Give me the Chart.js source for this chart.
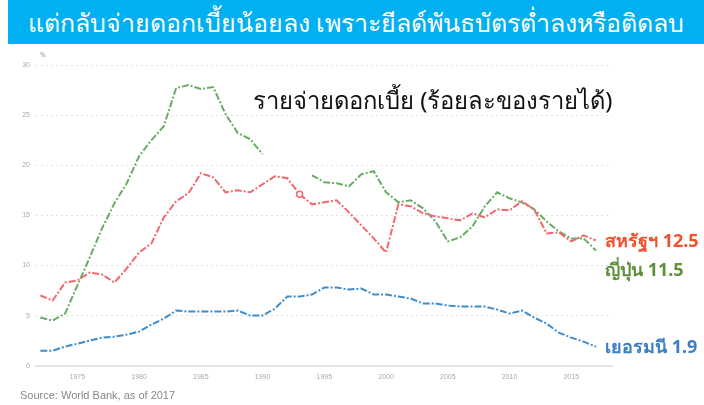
<!DOCTYPE html>
<html>
<head>
<meta charset="utf-8">
<script src="https://cdn.jsdelivr.net/npm/chart.js@4"></script>
<style>
  body { margin: 0; background: #fff; font-family: "Noto Sans", "DejaVu Sans", sans-serif; }
  #wrap { position: relative; width: 704px; height: 405px; overflow: hidden; }
  #chart { position: absolute; left: 0; top: 0; }
  .title { position: absolute; left: 8px; top: 0; width: 696px; height: 44px; background: #00b0f0;
           color: #fff; font-size: 25px; line-height: 44px; text-align: center; white-space: nowrap; }
  .sub { position: absolute; left: 253px; top: 82px; font-size: 23.8px; color: #111; white-space: nowrap; }
  .unit { position: absolute; left: 40px; top: 50px; font-size: 7px; color: #999; }
  .src { position: absolute; left: 20px; top: 389px; font-family: "Liberation Sans", Arial, sans-serif; font-size: 11px; color: #888; white-space: nowrap; }
  .lbl { position: absolute; left: 605px; font-size: 18px; font-weight: bold; white-space: nowrap; }
</style>
</head>
<body>
<div id="wrap">
  <canvas id="chart" width="704" height="405"></canvas>
  <div class="title">แต่กลับจ่ายดอกเบี้ยน้อยลง เพราะยีลด์พันธบัตรต่ำลงหรือติดลบ</div>
  <div class="sub">รายจ่ายดอกเบี้ย (ร้อยละของรายได้)</div>
  <div class="unit">%</div>
  <div class="src">Source: World Bank, as of 2017</div>
  <div class="lbl" style="top:226px;color:#f0502c">สหรัฐฯ 12.5</div>
  <div class="lbl" style="top:255px;color:#5e8f3a">ญี่ปุ่น 11.5</div>
  <div class="lbl" style="top:332px;color:#3b80c4">เยอรมนี 1.9</div>
</div>
<script>
// interest expense, % of revenue, 1972-2017
const years = [];
for (let y = 1972; y <= 2017; y++) years.push(y);

const usa = [7.0, 6.5, 8.3, 8.5, 9.3, 9.1, 8.3, 9.7, 11.3, 12.2,
  14.8, 16.4, 17.2, 19.2, 18.8, 17.3, 17.5, 17.3, 18.1, 18.9,
  18.7, 17.1, 16.1, 16.3, 16.5, 15.3, 14.0, 12.7, 11.3, 16.1,
  15.9, 15.2, 14.9, 14.7, 14.5, 15.2, 14.8, 15.6, 15.5, 16.4,
  15.6, 13.2, 13.3, 12.4, 13.0, 12.5];

const japan = [4.8, 4.5, 5.2, 8.0, 10.8, 13.7, 16.2, 18.2, 20.9, 22.5,
  23.9, 27.7, 28.0, 27.6, 27.8, 25.1, 23.2, 22.6, 21.1, null,
  null, null, 19.0, 18.3, 18.2, 17.9, 19.1, 19.4, 17.3, 16.3,
  16.5, 15.7, 14.4, 12.4, 12.8, 13.9, 15.9, 17.3, 16.7, 16.3,
  15.6, 14.4, 13.4, 12.7, 12.7, 11.5];

const germany = [1.5, 1.5, 1.9, 2.2, 2.5, 2.8, 2.9, 3.1, 3.4, 4.1,
  4.7, 5.5, 5.4, 5.4, 5.4, 5.4, 5.5, 5.0, 5.0, 5.7,
  6.9, 6.9, 7.1, 7.8, 7.8, 7.6, 7.7, 7.1, 7.1, 6.9,
  6.7, 6.2, 6.2, 6.0, 5.9, 5.9, 5.9, 5.6, 5.2, 5.5,
  4.8, 4.2, 3.3, 2.8, 2.4, 1.9];

const xTicks = [1975, 1980, 1985, 1990, 1995, 2000, 2005, 2010, 2015];
const yTicks = [0, 5, 10, 15, 20, 25, 30];

const pts = (vals) => years.map((yr, i) => ({ x: yr, y: vals[i] }));
const dash = [7, 2, 2, 2];

// hollow marker on the US line at 1993
const usRadius = years.map(yr => (yr === 1993 ? 3 : 0));

new Chart(document.getElementById('chart'), {
  type: 'line',
  data: {
    datasets: [
      { label: 'Germany', data: pts(germany), borderColor: '#3d8ccc', borderWidth: 2, borderDash: dash, pointRadius: 0, tension: 0 },
      { label: 'USA', data: pts(usa), borderColor: '#f2686e', borderWidth: 2, borderDash: dash, pointRadius: usRadius,
        pointBackgroundColor: '#fff', pointBorderColor: '#f2686e', pointBorderWidth: 1.5, tension: 0 },
      { label: 'Japan', data: pts(japan), borderColor: '#67ad62', borderWidth: 2, borderDash: dash, pointRadius: 0, spanGaps: false, tension: 0 }
    ]
  },
  options: {
    responsive: false,
    animation: false,
    devicePixelRatio: 1,
    layout: { padding: { top: 65, right: 92, bottom: 0, left: 0 } },
    plugins: { legend: { display: false }, tooltip: { enabled: false } },
    scales: {
      x: {
        type: 'linear',
        min: 1971.65,
        max: 2018.3,
        afterBuildTicks: (s) => { s.ticks = xTicks.map(v => ({ value: v })); },
        afterFit: (s) => { s.height = 39.3; },
        grid: { display: false, drawTicks: false },
        border: { display: true, color: '#e6e6e6', width: 2 },
        ticks: { color: '#aaa', padding: 7, font: { size: 7 }, callback: (v) => String(v) }
      },
      y: {
        min: 0,
        max: 30,
        afterBuildTicks: (s) => { s.ticks = yTicks.map(v => ({ value: v })); },
        afterFit: (s) => { s.width = 36; },
        grid: { color: '#e2e2e2', lineWidth: 1, drawTicks: false },
        border: { display: false, dash: [2, 3] },
        ticks: { color: '#aaa', padding: 6, font: { size: 7 } }
      }
    }
  }
});
</script>
</body>
</html>
